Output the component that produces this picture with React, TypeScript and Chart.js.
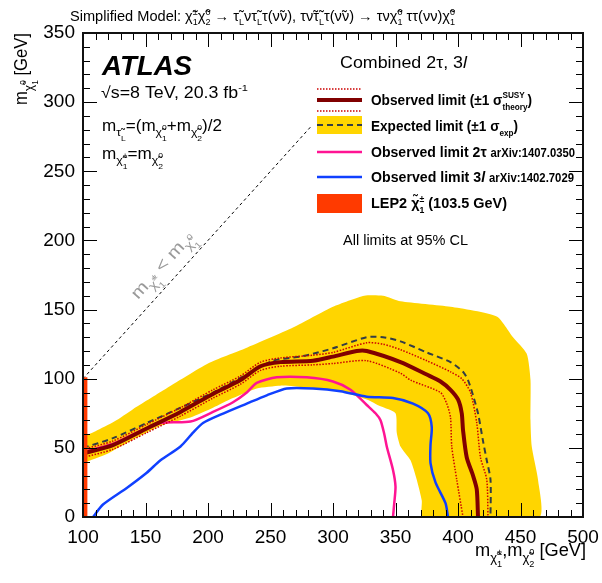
import React, { useEffect, useRef } from 'react';
import { Chart, registerables } from 'chart.js';
Chart.register(...registerables);

// ---------- DATA (GeV) ----------
const xTickLabels = [100, 150, 200, 250, 300, 350, 400, 450, 500];
const yTickLabels = [0, 50, 100, 150, 200, 250, 300, 350];

// expected limit +-1 sigma band: outer (upper) edge, left -> right, ending on the x axis
const bandUpper: number[][] = [
  [100, 58], [110, 62], [125, 69], [140, 78], [165, 92], [200, 111], [230, 122], [268, 137],
  [300, 152], [325, 160], [340, 160], [354, 156], [394, 152], [431, 145], [444, 130],
  [455, 118], [458, 99], [458, 70], [459, 51], [464, 27], [465, 0],
];
// inner (lower) edge, left -> right, ending on the x axis
const bandLower: number[][] = [
  [100, 39], [120, 46], [140, 56], [162, 66], [186, 72], [204, 79], [220, 86], [239, 93],
  [258, 95], [274, 94], [300, 92], [327, 85], [338, 80], [350, 75], [351, 61], [354, 51],
  [362, 41], [367, 27], [371, 12], [372, 0],
];
const expected: number[][] = [
  [100, 50], [124, 57], [151, 68], [178, 79], [204, 90], [231, 103], [252, 113], [274, 116],
  [284, 118], [300, 122], [327, 130], [340, 130], [354, 127], [375, 119], [394, 112],
  [404, 105], [408, 99], [412, 88], [416, 75], [420, 55], [423, 41], [426, 27], [426, 0],
];
const observed: number[][] = [
  [100, 46], [124, 52], [151, 64], [178, 76], [204, 89], [226, 99], [242, 109], [258, 112],
  [284, 113], [300, 116], [319, 120], [327, 120], [354, 112], [375, 103], [386, 98],
  [394, 92], [400, 85], [403, 75], [404, 63], [407, 43], [412, 30], [415, 20], [416, 0],
];
const observedUp: number[][] = [
  [100, 49], [124, 55], [151, 67], [178, 79], [204, 92], [226, 102], [242, 112], [258, 115],
  [284, 117], [300, 119], [327, 126], [340, 125], [354, 121], [375, 113], [394, 105],
  [403, 100], [410, 90], [415, 68], [418, 43], [423, 27], [424, 0],
];
const observedDown: number[][] = [
  [100, 43], [124, 49], [151, 61], [178, 73], [204, 86], [226, 96], [242, 106], [258, 109],
  [284, 110], [300, 111], [327, 113], [354, 104], [362, 99], [386, 90], [391, 82],
  [394, 72], [395, 51], [399, 27], [404, 0],
];
const observed2tau: number[][] = [
  [100, 47], [124, 53], [143, 61], [162, 68], [186, 69], [204, 76], [220, 83], [231, 90],
  [239, 97], [255, 101], [279, 101], [300, 98], [314, 92], [327, 81], [334, 75], [338, 70],
  [341, 60], [343, 51], [348, 34], [350, 22], [349, 10], [348, 0],
];
const observed3l: number[][] = [
  [108, 0], [116, 9], [135, 21], [151, 32], [162, 41], [178, 51], [188, 61], [196, 68],
  [210, 74], [231, 82], [247, 88], [263, 93], [284, 93], [306, 91], [327, 87], [348, 86],
  [364, 82], [376, 75], [379, 65], [378, 52], [378, 39], [382, 25], [390, 10], [392, 0],
];
const lep2Mass = 103.5;
const lep2Top = 101;
const diagonal: number[][] = [[100, 100], [282, 282]];

// ---------- helpers ----------
const FAMILY = '"Liberation Sans", Arial, Helvetica, sans-serif';
type Piece = { t: string; s?: number; dy?: number; stack?: boolean; italic?: boolean };

const fontStr = (size: number, weight: string, italic: boolean) =>
  `${italic ? 'italic ' : ''}${weight} ${size}px ${FAMILY}`;

function layout(ctx: CanvasRenderingContext2D, pieces: Piece[], size: number, weight: string, italic: boolean) {
  let cursor = 0;
  let prevStart = 0;
  const out: { p: Piece; x: number; fs: number }[] = [];
  for (const p of pieces) {
    const fs = size * (p.s ?? 1);
    ctx.font = fontStr(fs, weight, italic || !!p.italic);
    const w = ctx.measureText(p.t).width;
    const start = p.stack ? prevStart : cursor;
    out.push({ p, x: start, fs });
    cursor = Math.max(cursor, start + w);
    prevStart = start;
  }
  return { items: out, width: cursor };
}

function drawRich(
  ctx: CanvasRenderingContext2D,
  pieces: Piece[],
  x: number,
  y: number,
  size: number,
  opts: { weight?: string; italic?: boolean; color?: string; align?: 'left' | 'right'; fit?: number; rotate?: number } = {}
) {
  const weight = opts.weight ?? 'normal';
  const italic = !!opts.italic;
  ctx.save();
  const { items, width } = layout(ctx, pieces, size, weight, italic);
  const sx = opts.fit ? opts.fit / width : 1;
  ctx.translate(x, y);
  if (opts.rotate) ctx.rotate(opts.rotate);
  const total = width * sx;
  if (opts.align === 'right') ctx.translate(-total, 0);
  ctx.scale(sx, 1);
  ctx.fillStyle = opts.color ?? '#000';
  ctx.textBaseline = 'alphabetic';
  ctx.textAlign = 'left';
  for (const it of items) {
    ctx.font = fontStr(it.fs, weight, italic || !!it.p.italic);
    ctx.fillText(it.p.t, it.x, (it.p.dy ?? 0) * size);
  }
  ctx.restore();
}

// chi-tilde as subscript of m (with its own sup/sub)
const chiSub = (sup: string, sub: string): Piece[] => [
  { t: 'χ̃', s: 0.72, dy: 0.32 },
  { t: sup, s: 0.5, dy: -0.05 },
  { t: sub, s: 0.5, dy: 0.62, stack: true },
];
// chi-tilde at base level
const chiBase = (sup: string, sub: string, k = 0.62): Piece[] => [
  { t: 'χ̃' },
  { t: sup, s: k, dy: -0.42 },
  { t: sub, s: k, dy: 0.3, stack: true },
];

const toXY = (a: number[][]) => a.map(([x, y]) => ({ x, y }));

// ---------- plugins ----------
const framePlugin = {
  id: 'rootFrame',
  afterDatasetsDraw(chart: any) {
    const { ctx, chartArea, scales } = chart;
    const { left, right, top, bottom } = chartArea;
    const xs = scales.x;
    const ys = scales.y;
    ctx.save();
    ctx.strokeStyle = '#000';
    ctx.lineWidth = 1;
    ctx.beginPath();
    for (let v = xs.min; v <= xs.max + 1e-6; v += 10) {
      const px = Math.round(xs.getPixelForValue(v)) + 0.5;
      const L = v % 50 === 0 ? 14 : 7;
      ctx.moveTo(px, bottom); ctx.lineTo(px, bottom - L);
      ctx.moveTo(px, top); ctx.lineTo(px, top + L);
    }
    for (let v = ys.min; v <= ys.max + 1e-6; v += 10) {
      const py = Math.round(ys.getPixelForValue(v)) + 0.5;
      const L = v % 50 === 0 ? 14 : 7;
      ctx.moveTo(left, py); ctx.lineTo(left + L, py);
      ctx.moveTo(right, py); ctx.lineTo(right - L, py);
    }
    ctx.stroke();
    ctx.lineWidth = 2;
    ctx.strokeStyle = '#111';
    ctx.strokeRect(left, top, right - left, bottom - top);
    ctx.restore();
  },
};

const textPlugin = {
  id: 'annotations',
  afterDraw(chart: any) {
    const ctx: CanvasRenderingContext2D = chart.ctx;
    ctx.save();
    // title
    drawRich(ctx, [
      { t: 'Simplified Model: ' }, ...chiBase('±', '1'), ...chiBase('0', '2'),
      { t: ' → τ̃' }, { t: 'L', s: 0.62, dy: 0.3 }, { t: 'ντ̃' }, { t: 'L', s: 0.62, dy: 0.3 },
      { t: 'τ(ν̃ν), τν̃τ̃' }, { t: 'L', s: 0.62, dy: 0.3 }, { t: 'τ(ν̃ν) → τν' }, ...chiBase('0', '1'),
      { t: ' ττ(νν)' }, ...chiBase('0', '1'),
    ], 70, 21, 14, { fit: 385 });

    // ATLAS block
    drawRich(ctx, [{ t: 'ATLAS' }], 102, 75, 28, { weight: 'bold', italic: true, fit: 90 });
    drawRich(ctx, [{ t: '√s=8 TeV, 20.3 fb' }, { t: '-1', s: 0.62, dy: -0.42 }], 101, 98, 16, { fit: 147 });
    drawRich(ctx, [
      { t: 'm' }, { t: 'τ̃', s: 0.72, dy: 0.32 }, { t: 'L', s: 0.5, dy: 0.62 },
      { t: '=(m' }, ...chiSub('0', '1'), { t: '+m' }, ...chiSub('0', '2'), { t: ')/2' },
    ], 102, 131, 16, { fit: 120 });
    drawRich(ctx, [{ t: 'm' }, ...chiSub('±', '1'), { t: '=m' }, ...chiSub('0', '2')], 102, 159, 16, { fit: 61 });

    // diagonal label
    drawRich(ctx, [{ t: 'm' }, ...chiSub('±', '1'), { t: ' < m' }, ...chiSub('0', '1')], 138, 300, 17,
      { fit: 84, color: '#9a9a9a', rotate: -Math.atan2(1.383, 1.25) });

    // legend
    drawRich(ctx, [{ t: 'Combined 2τ, 3' }, { t: 'l', italic: true }], 340, 68, 16, { fit: 127 });
    const x0 = 317, x1 = 362;
    // row 1
    ctx.strokeStyle = '#cc0000'; ctx.lineWidth = 1.5; ctx.setLineDash([1.5, 1.5]);
    ctx.beginPath(); ctx.moveTo(x0, 89); ctx.lineTo(x1, 89); ctx.moveTo(x0, 111); ctx.lineTo(x1, 111); ctx.stroke();
    ctx.setLineDash([]);
    ctx.strokeStyle = '#800000'; ctx.lineWidth = 4;
    ctx.beginPath(); ctx.moveTo(x0, 100); ctx.lineTo(x1, 100); ctx.stroke();
    // row 2
    ctx.fillStyle = '#ffd500'; ctx.fillRect(x0, 116, x1 - x0, 18);
    ctx.strokeStyle = '#333d45'; ctx.lineWidth = 2; ctx.setLineDash([6, 4]);
    ctx.beginPath(); ctx.moveTo(x0, 125); ctx.lineTo(x1, 125); ctx.stroke();
    ctx.setLineDash([]);
    // row 3/4
    ctx.strokeStyle = '#ff1493'; ctx.lineWidth = 2.5;
    ctx.beginPath(); ctx.moveTo(x0, 152); ctx.lineTo(x1, 152); ctx.stroke();
    ctx.strokeStyle = '#1040ff';
    ctx.beginPath(); ctx.moveTo(x0, 177); ctx.lineTo(x1, 177); ctx.stroke();
    // row 5
    ctx.fillStyle = '#ff3a00'; ctx.fillRect(x0, 194, x1 - x0, 19);

    const tx = 371;
    drawRich(ctx, [{ t: 'Observed limit (±1 σ' }, { t: 'SUSY', s: 0.6, dy: -0.45 }, { t: 'theory', s: 0.6, dy: 0.3, stack: true }, { t: ')' }],
      tx, 105, 15, { weight: 'bold', fit: 161 });
    drawRich(ctx, [{ t: 'Expected limit (±1 σ' }, { t: 'exp', s: 0.6, dy: 0.3 }, { t: ')' }],
      tx, 131, 15, { weight: 'bold', fit: 147 });
    drawRich(ctx, [{ t: 'Observed limit 2τ ' }, { t: 'arXiv:1407.0350', s: 0.8 }],
      tx, 157, 15, { weight: 'bold', fit: 204 });
    drawRich(ctx, [{ t: 'Observed limit 3' }, { t: 'l', italic: true }, { t: ' ' }, { t: 'arXiv:1402.7029', s: 0.8 }],
      tx, 182, 15, { weight: 'bold', fit: 203 });
    drawRich(ctx, [{ t: 'LEP2 ' }, ...chiBase('±', '1', 0.6), { t: ' (103.5 GeV)' }],
      tx, 208, 15, { weight: 'bold', fit: 136 });
    drawRich(ctx, [{ t: 'All limits at 95% CL' }], 343, 245, 14, { fit: 125 });

    // axis titles
    drawRich(ctx, [{ t: 'm' }, ...chiSub('0', '1'), { t: ' [GeV]' }], 27, 33, 18,
      { fit: 72, align: 'right', rotate: -Math.PI / 2 });
    drawRich(ctx, [{ t: 'm' }, ...chiSub('±', '1'), { t: ',m' }, ...chiSub('0', '2'), { t: ' [GeV]' }],
      586, 556, 18, { fit: 111, align: 'right' });
    ctx.restore();
  },
};

const line = (data: number[][], color: string, width: number, order: number, dash: number[] = [], tension = 0.25) => ({
  data: toXY(data),
  showLine: true,
  borderColor: color,
  borderWidth: width,
  borderDash: dash,
  pointRadius: 0,
  tension,
  fill: false,
  order,
});

export default function App() {
  const ref = useRef<HTMLCanvasElement>(null);
  useEffect(() => {
    const bandPoly = [...bandUpper, ...[...bandLower].reverse()];
    const lepPoly = [[100, 0], [lep2Mass, 0], [lep2Mass, lep2Top], [100, lep2Top]];
    const chart = new Chart(ref.current as HTMLCanvasElement, {
      type: 'scatter',
      data: {
        datasets: [
          {
            data: toXY(lepPoly), showLine: true, borderWidth: 0, pointRadius: 0, tension: 0,
            backgroundColor: '#ff3a00', borderColor: 'rgba(0,0,0,0)', fill: 'shape', order: 0,
          } as any,
          line(observed, '#800000', 4, 1),
          line(observedUp, '#cc0000', 1.5, 2, [1.5, 1.5]),
          line(observedDown, '#cc0000', 1.5, 2, [1.5, 1.5]),
          line(expected, '#333d45', 2, 3, [6, 4]),
          line(observed2tau, '#ff1493', 2.5, 5),
          line(observed3l, '#1040ff', 2.5, 4),
          line(diagonal, '#000000', 1, 6, [3, 3], 0),
          {
            data: toXY(bandPoly), showLine: true, borderWidth: 0, pointRadius: 0, tension: 0.2,
            backgroundColor: '#ffd500', borderColor: 'rgba(0,0,0,0)', fill: 'shape', order: 10,
          } as any,
        ],
      },
      options: {
        responsive: false,
        animation: false,
        devicePixelRatio: 1,
        events: [],
        layout: { padding: { top: 33, right: 19, left: 0, bottom: 0 } },
        plugins: { legend: { display: false }, tooltip: { enabled: false }, title: { display: false } },
        scales: {
          x: {
            type: 'linear', min: xTickLabels[0], max: xTickLabels[xTickLabels.length - 1],
            grid: { display: false, drawTicks: false }, border: { display: false },
            ticks: {
              stepSize: 50, autoSkip: false, padding: 9, color: '#000', maxRotation: 0,
              font: { family: FAMILY, size: 19 },
              callback: (v: any) => (xTickLabels.includes(Number(v)) ? String(v) : ''),
            },
            afterFit: (s: any) => { s.height = 66; s.paddingLeft = 0; s.paddingRight = 0; },
          },
          y: {
            type: 'linear', min: yTickLabels[0], max: yTickLabels[yTickLabels.length - 1],
            grid: { display: false, drawTicks: false }, border: { display: false },
            ticks: {
              stepSize: 50, autoSkip: false, padding: 8, color: '#000',
              font: { family: FAMILY, size: 19 },
              callback: (v: any) => (yTickLabels.includes(Number(v)) ? String(v) : ''),
            },
            afterFit: (s: any) => { s.width = 83; s.paddingTop = 0; s.paddingBottom = 0; },
          },
        },
      } as any,
      plugins: [framePlugin, textPlugin],
    });
    return () => chart.destroy();
  }, []);
  return (
    <div style={{ position: 'absolute', left: 0, top: 0, width: 602, height: 583, background: '#fff' }}>
      <canvas ref={ref} width={602} height={583} style={{ display: 'block', width: 602, height: 583 }} />
    </div>
  );
}
